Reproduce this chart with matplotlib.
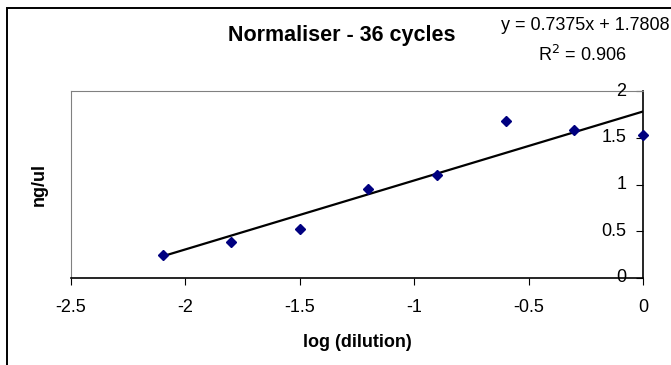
import matplotlib.pyplot as plt
import numpy as np
from matplotlib.patches import Rectangle

plt.rcParams['font.family'] = ['Liberation Sans', 'DejaVu Sans']

log_dilution = [-2.1, -1.8, -1.5, -1.2, -0.9, -0.6, -0.3, 0.0]
ng_ul = [0.25, 0.39, 0.52, 0.95, 1.10, 1.68, 1.58, 1.53]
slope = 0.7375
intercept = 1.7808
r2 = 0.906
yticks = [0, 0.5, 1, 1.5, 2]
ytick_labels = ['0', '0.5', '1', '1.5', '2']
xticks = [-2.5, -2, -1.5, -1, -0.5, 0]
xtick_labels = ['-2.5', '-2', '-1.5', '-1', '-0.5', '0']

fig = plt.figure(figsize=(6.71, 3.65), dpi=100)
ax = fig.add_axes([71 / 671, 1 - 278 / 365, 572 / 671, 187 / 365])

# outer chart border (runs off the right and bottom edges)
fig.patches.append(Rectangle((6.5 / 671, -0.1), 1.2, 1 - 7.5 / 365 + 0.1, transform=fig.transFigure,
                             fill=False, edgecolor='black', linewidth=1.4))

xfit = np.array([log_dilution[0], log_dilution[-1]])
ax.plot(xfit, slope * xfit + intercept, color='black', linewidth=1.6, zorder=2)
ax.plot(log_dilution, ng_ul, linestyle='none', marker='D', markersize=5.2,
        color='#000080', clip_on=False, zorder=3)

ax.set_xlim(-2.5, 0)
ax.set_ylim(0, 2)
ax.set_xticks(xticks)
ax.set_xticklabels(xtick_labels)
ax.set_yticks(yticks)

ax.yaxis.tick_right()
ax.tick_params(axis='y', direction='in', length=5, right=True, left=False,
               labelright=False, labelleft=False)
ax.tick_params(axis='x', direction='out', length=5, labelsize=13, pad=10)

# y labels sit to the left of the right-hand axis
for v, s in zip(yticks, ytick_labels):
    ax.annotate(s, xy=(0, v), xycoords='data', xytext=(-12, 0), textcoords='offset points',
                ha='right', va='center', fontsize=13, annotation_clip=False)

ax.spines['top'].set_color('#808080')
ax.spines['left'].set_color('#808080')
for sp in ['bottom', 'right']:
    ax.spines[sp].set_color('black')
    ax.spines[sp].set_linewidth(1.2)

ax.set_xlabel('log (dilution)', fontsize=13, fontweight='bold', labelpad=13)
ax.yaxis.set_label_position('left')
ax.set_ylabel('ng/ul', fontsize=13, fontweight='bold', labelpad=17)

fig.text(342 / 671, 1 - 35 / 365, 'Normaliser - 36 cycles', ha='center', va='center',
         fontsize=15.5, fontweight='bold')
fig.text(670 / 671, 1 - 25 / 365, f'y = {slope}x + {intercept}', ha='right', va='center',
         fontsize=13)
fig.text(627 / 671, 1 - 55 / 365, f'R$^2$ = {r2}', ha='right', va='center', fontsize=13)

fig.savefig('out.png', dpi=100)
